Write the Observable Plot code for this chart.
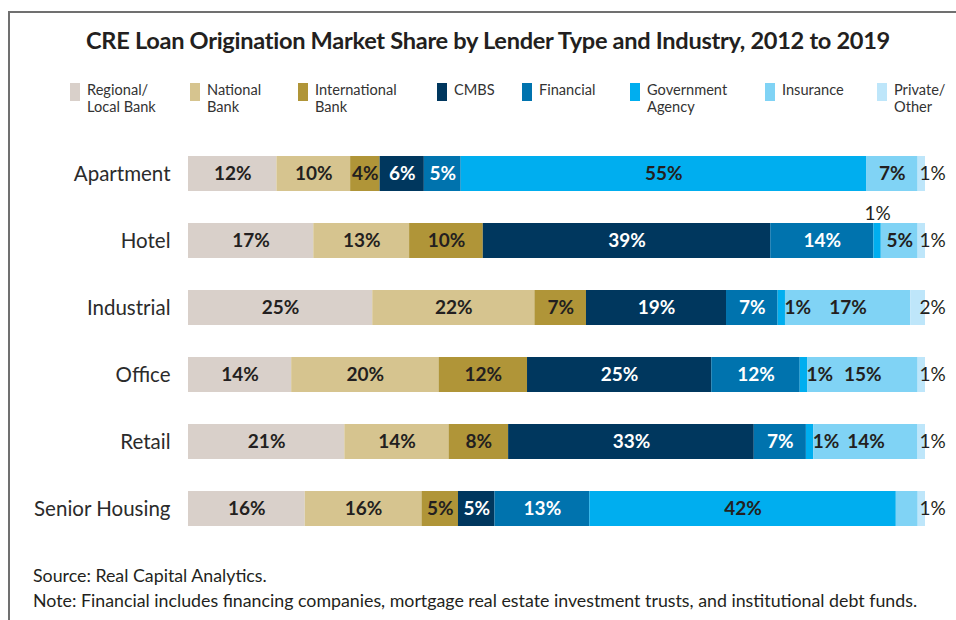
<!DOCTYPE html>
<html><head><meta charset="utf-8">
<script src="https://cdn.jsdelivr.net/npm/d3@7"></script>
<script src="https://cdn.jsdelivr.net/npm/@observablehq/plot@0.6"></script>
<style>
body{margin:0;background:#fff;font-family:Lato,"Noto Sans",sans-serif;color:#231f20;}
#wrap{position:relative;width:956px;height:620px;overflow:hidden;background:#fff;}
#frame{position:absolute;left:8px;top:11px;width:1000px;height:700px;border-top:2px solid #707070;border-left:2px solid #707070;}
#title{position:absolute;top:26px;left:0;width:976px;text-align:center;font-weight:700;font-size:23.6px;letter-spacing:-0.3px;color:#231f20;white-space:nowrap;}
.lg{position:absolute;top:81px;display:flex;align-items:flex-start;}
.sw{width:10px;height:18px;margin-right:7px;margin-top:2px;}
.lt{font-size:14.6px;line-height:17px;color:#333;}
#chart{position:absolute;left:0;top:0;}
.foot{position:absolute;left:33px;font-size:17.8px;color:#231f20;white-space:nowrap;}
</style></head>
<body><div id="wrap"><div id="frame"></div><div id="title"></div><div id="chart"></div></div>
<script>
// ---- data ----
const industries = ["Apartment","Hotel","Industrial","Office","Retail","Senior Housing"];
const lenders = ["Regional/Local Bank","National Bank","International Bank","CMBS","Financial","Government Agency","Insurance","Private/Other"];
const legendLabels = [["Regional/","Local Bank"],["National","Bank"],["International","Bank"],["CMBS"],["Financial"],["Government","Agency"],["Insurance"],["Private/","Other"]];
const colors = ["#d9d0ca","#d6c48f","#b09538","#00375e","#0073ae","#00aeef","#80d3f5","#bee6fa"];
const apartment     = [12,10,4,6,5,55,7,1];
const hotel         = [17,13,10,39,14,1,5,1];
const industrial    = [25,22,7,19,7,1,17,2];
const office        = [14,20,12,25,12,1,15,1];
const retail        = [21,14,8,33,7,1,14,1];
const seniorHousing = [16,16,5,5,13,42,3,1];
const titleText = "CRE Loan Origination Market Share by Lender Type and Industry, 2012 to 2019";
const sourceText = "Source: Real Capital Analytics.";
const noteText = "Note: Financial includes financing companies, mortgage real estate investment trusts, and institutional debt funds.";
const hiddenLabels = [["Senior Housing","Insurance"]];
const aboveLabels = [["Hotel","Government Agency"]];
const legendX = [70,190,298,437,522,630,765,877];

// ---- build table ----
const series = [apartment, hotel, industrial, office, retail, seniorHousing];
const data = [];
industries.forEach((ind, i) => lenders.forEach((l, j) => data.push({industry: ind, lender: l, value: series[i][j]})));
const has = (arr, d) => arr.some(([a,b]) => a === d.industry && b === d.lender);
const kind = d => {
  if (has(hiddenLabels, d)) return "none";
  if (has(aboveLabels, d)) return "above";
  if (d.lender === "Private/Other") return "after";
  if (d.lender === "Government Agency" && d.value <= 1) return "right";
  return "center";
};
const dark = new Set(["CMBS","Financial"]);
const lab = d => d.value + "%";

document.getElementById("title").textContent = titleText;
const wrap = document.getElementById("wrap");
lenders.forEach((l, j) => {
  const div = document.createElement("div");
  div.className = "lg"; div.style.left = legendX[j] + "px";
  div.innerHTML = `<div class="sw" style="background:${colors[j]}"></div><div class="lt">${legendLabels[j].join("<br>")}</div>`;
  wrap.appendChild(div);
});
[[sourceText, 564], [noteText, 589]].forEach(([t, y]) => {
  const div = document.createElement("div");
  div.className = "foot"; div.style.top = y + "px"; div.textContent = t;
  wrap.appendChild(div);
});

const st = {x: "value", y: "industry", offset: "normalize"};
const fs = 19;
const chart = Plot.plot({
  width: 956, height: 620,
  marginLeft: 188, marginRight: 31, marginTop: 122, marginBottom: 61,
  style: {fontFamily: "Lato, 'Noto Sans', sans-serif", background: "transparent", color: "#231f20"},
  x: {axis: null, domain: [0, 1]},
  y: {domain: industries, padding: 0.48, label: null},
  color: {domain: lenders, range: colors},
  marks: [
    Plot.barX(data, Plot.stackX({...st, fill: "lender"})),
    Plot.axisY({tickSize: 0, tickPadding: 18, fontSize: 20.5, label: null, fill: "#2b2b2b"}),
    Plot.text(data, Plot.stackX({...st, text: d => kind(d) === "center" && dark.has(d.lender) ? lab(d) : "", fill: "white", fontSize: fs, fontWeight: 700})),
    Plot.text(data, Plot.stackX({...st, text: d => kind(d) === "center" && !dark.has(d.lender) ? lab(d) : "", fill: "#231f20", fontSize: fs, fontWeight: 700})),
    Plot.text(data, Plot.stackX({...st, text: d => kind(d) === "above" ? lab(d) : "", fill: "#231f20", fontSize: fs, dy: -27})),
    Plot.text(data, Plot.stackX2({...st, text: d => kind(d) === "right" ? lab(d) : "", fill: "#231f20", fontSize: fs, fontWeight: 700, textAnchor: "start", dx: -1})),
    Plot.text(data, Plot.stackX2({...st, text: d => kind(d) === "after" ? lab(d) : "", fill: "#231f20", fontSize: fs, textAnchor: "start", dx: -6}))
  ]
});
document.getElementById("chart").appendChild(chart);
</script></body></html>
